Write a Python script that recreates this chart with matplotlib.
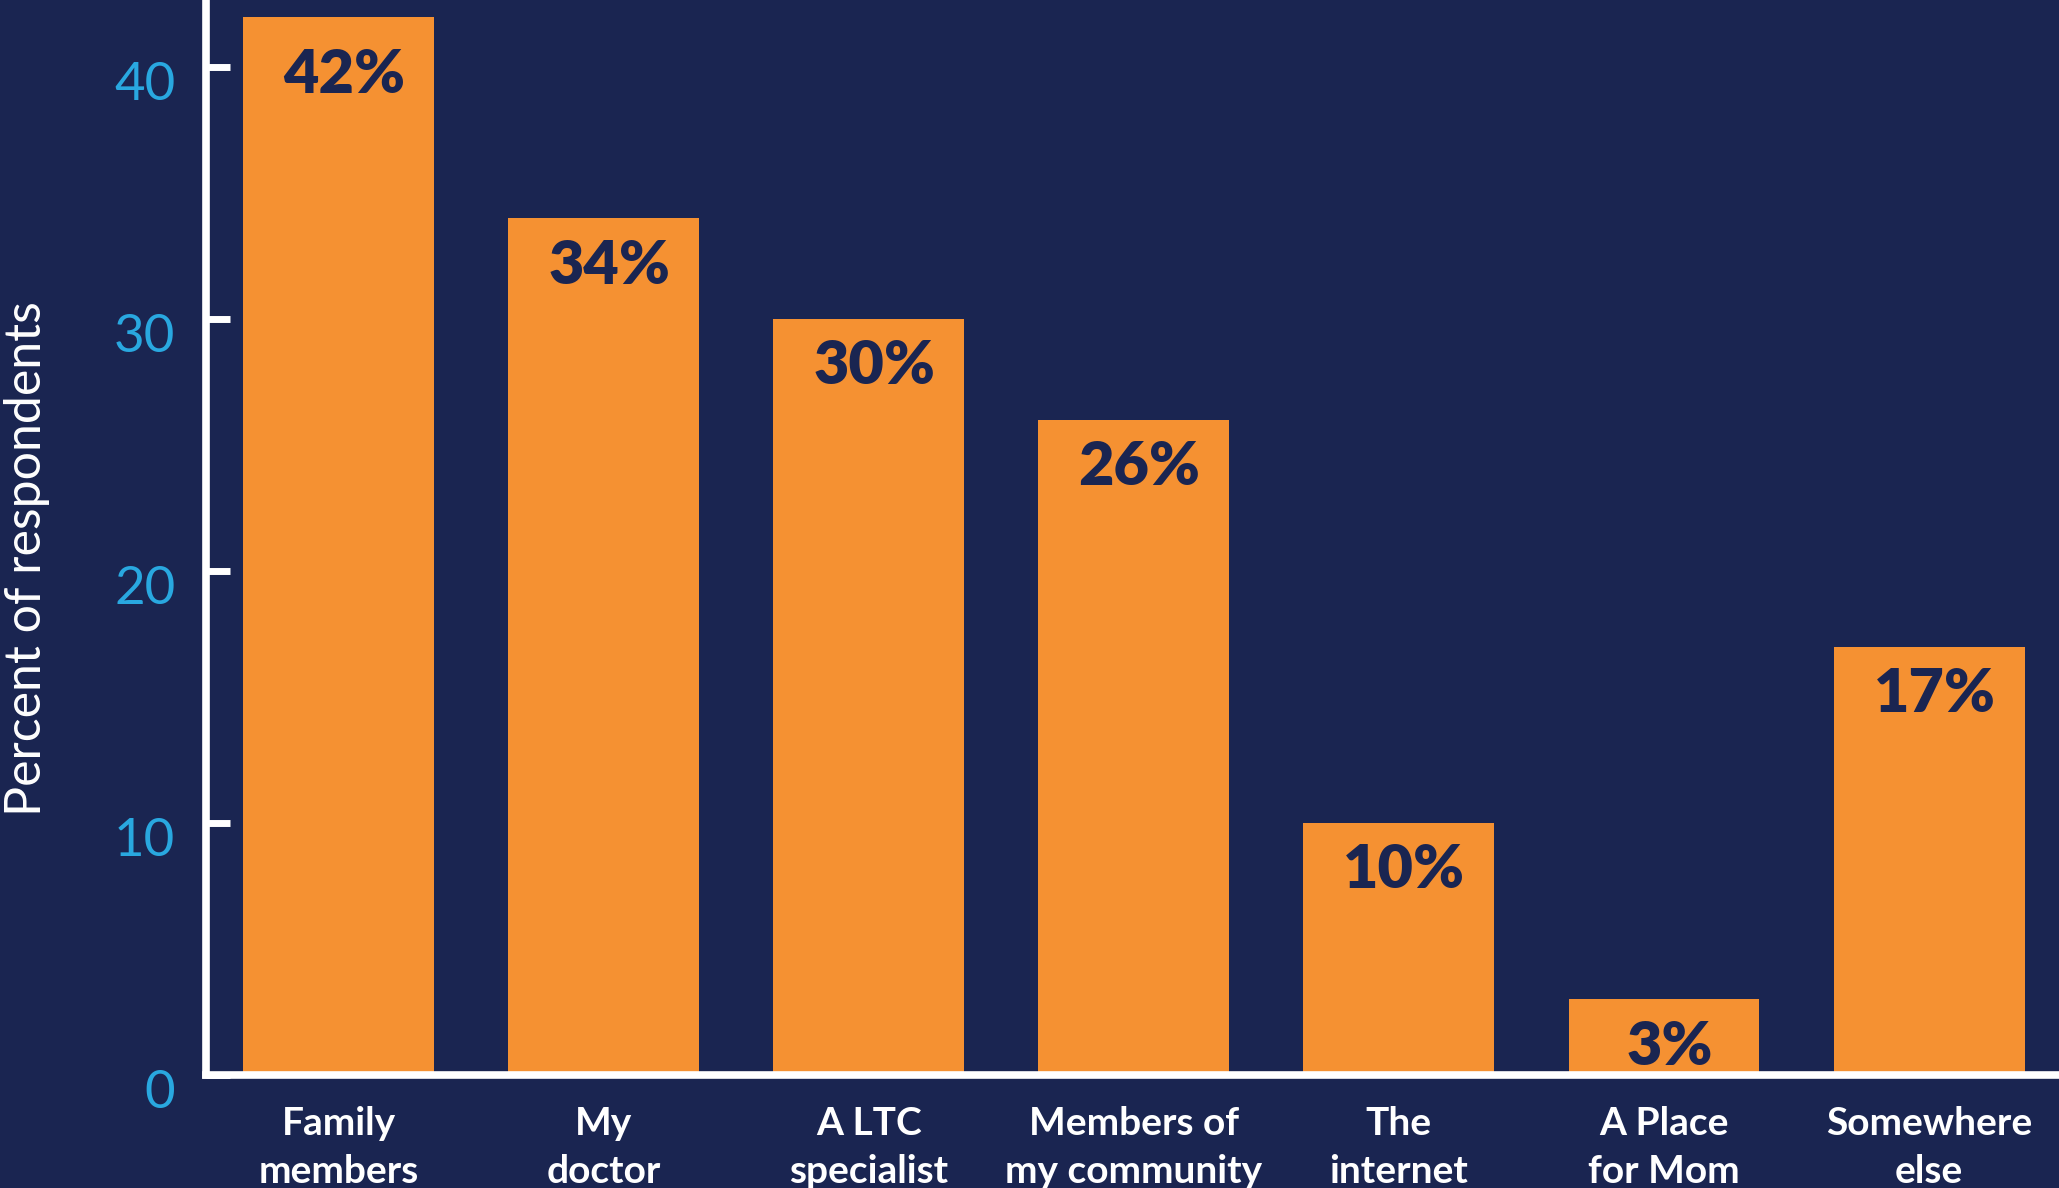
import matplotlib
matplotlib.use("Agg")
import matplotlib.pyplot as plt
import matplotlib.transforms as mtransforms

# data
categories = ["Family\nmembers", "My\ndoctor", "A LTC\nspecialist",
              "Members of\nmy community", "The\ninternet",
              "A Place\nfor Mom", "Somewhere\nelse"]
values = [42, 34, 30, 26, 10, 3, 17]
y_ticks = [0, 10, 20, 30, 40]

BG = "#1a2551"
BAR = "#f59132"
TICK_BLUE = "#29a8e0"
WHITE = "white"

plt.rcParams["font.family"] = ["Lato", "DejaVu Sans"]

fig = plt.figure(figsize=(20.59, 11.88), dpi=100, facecolor=BG)
ax = fig.add_axes([0.1, 0.0951, 0.9, 0.9049])
ax.set_facecolor(BG)

x = list(range(len(values)))
ax.bar(x, values, width=0.72, color=BAR, zorder=2)

for xi, v in zip(x, values):
    # tallest bar touches the top edge, so its label sits a bit lower
    dy = -22 if v == max(values) else -14
    ax.annotate(f"{v}%", (xi, v), xytext=(4, dy), textcoords="offset points",
                ha="center", va="top", fontsize=44, fontweight="heavy",
                color=BG, zorder=3)

ax.set_xlim(-0.5, 6.49)
ax.set_ylim(0, 42.66)

for side in ["top", "right"]:
    ax.spines[side].set_visible(False)
for side in ["left", "bottom"]:
    ax.spines[side].set_color(WHITE)
    ax.spines[side].set_linewidth(5.5)
    ax.spines[side].set_zorder(4)

ax.set_yticks(y_ticks)
ax.set_yticklabels([str(t) for t in y_ticks])
ax.tick_params(axis="y", direction="in", length=17, width=5, color=WHITE,
               labelcolor=TICK_BLUE, labelsize=38, pad=22)
for lab in ax.get_yticklabels():
    lab.set_fontweight("normal")
    lab.set_transform(lab.get_transform() +
                      mtransforms.ScaledTranslation(0, -0.14, fig.dpi_scale_trans))

ax.set_xticks(x)
ax.set_xticklabels(categories, fontweight="bold", linespacing=1.45)
ax.tick_params(axis="x", length=0, labelcolor=WHITE, labelsize=28, pad=22)

ax.set_ylabel("Percent of respondents", color=WHITE, fontsize=36,
              fontweight="normal")
ax.yaxis.set_label_coords(-0.084, 0.48)

fig.savefig("out.png", dpi=100, facecolor=BG)
